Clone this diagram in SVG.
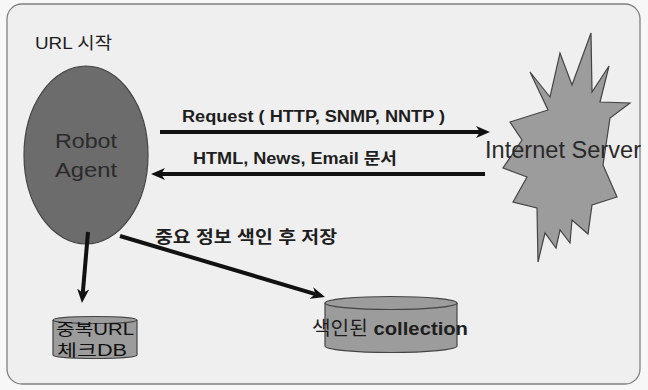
<svg xmlns="http://www.w3.org/2000/svg" width="648" height="390" viewBox="0 0 648 390">
<defs>
<style>
.t{font-family:"Liberation Sans","Noto Sans CJK KR",Arial,sans-serif;fill:#1e1e1e}
.b{font-weight:bold}
.conn{stroke:#111;fill:none;stroke-width:4}
.shape{stroke:#444;stroke-width:1.2}
</style>
<marker id="ah" markerUnits="userSpaceOnUse" viewBox="0 0 14 12" refX="4" refY="6" markerWidth="14" markerHeight="12" orient="auto">
<path d="M0,0 L14,6 L0,12 L4,6 z" fill="#111"/>
</marker>
</defs>
<rect width="648" height="390" fill="#f7f7f7"/>
<rect x="7" y="4" width="633" height="380" rx="15" fill="#efefef" stroke="#808080" stroke-width="1.3"/>
<text class="t" x="35" y="49" font-size="17" textLength="77" lengthAdjust="spacingAndGlyphs">URL 시작</text>

<g id="robot">
<ellipse cx="86" cy="155" rx="62" ry="89" fill="#6c6c6c" class="shape"/>
<text class="t" x="86" y="148" font-size="21" text-anchor="middle" style="fill:#2a2a2a" textLength="62" lengthAdjust="spacingAndGlyphs">Robot</text>
<text class="t" x="86" y="177" font-size="21" text-anchor="middle" style="fill:#2a2a2a" textLength="62" lengthAdjust="spacingAndGlyphs">Agent</text>
</g>

<g id="server">
<polygon class="shape" fill="#9c9c9c" points="591,33 592,92 609,66 600,102 630,103 610,118 603,165 617,197 592,205 588,234 572,220 570,243 560,230 556,248 545,233 538,262 537,208 513,202 527,177 503,168 522,140 510,122 548,110 530,72 550,97 560,53 572,85"/>
<text class="t" x="485" y="158" font-size="23" style="fill:#2a2a2a" textLength="156" lengthAdjust="spacingAndGlyphs">Internet Server</text>
</g>

<g id="dupdb">
<path class="shape" fill="#9c9c9c" d="M53,320 A42,3.5 0 0 1 137,320 L137,355 A42,3.5 0 0 1 53,355 Z"/>
<path class="shape" fill="none" d="M53,320 A42,3.5 0 0 0 137,320"/>
<text class="t" x="95" y="335" font-size="16" text-anchor="middle" style="fill:#111" textLength="78" lengthAdjust="spacingAndGlyphs">중복URL</text>
<text class="t" x="92" y="356" font-size="16" text-anchor="middle" style="fill:#111" textLength="70" lengthAdjust="spacingAndGlyphs">체크DB</text>
</g>

<g id="collection">
<path class="shape" fill="#9c9c9c" d="M325,303 A66,6.5 0 0 1 457,303 L457,346 A66,6.5 0 0 1 325,346 Z"/>
<path class="shape" fill="none" d="M325,303 A66,6.5 0 0 0 457,303"/>
<text class="t" x="312" y="335" font-size="19" textLength="156" lengthAdjust="spacingAndGlyphs">색인된 <tspan class="b">collection</tspan></text>
</g>

<g id="connectors">
<path class="conn" d="M160,132 L480,132" marker-end="url(#ah)"/>
<path class="conn" d="M485,174 L161,174" marker-end="url(#ah)"/>
<path class="conn" d="M88,232 L82.8,293" stroke-width="3.5" marker-end="url(#ah)"/>
<path class="conn" d="M120,236 L315.4,294.1" stroke-width="3.5" marker-end="url(#ah)"/>
<text class="t b" x="182" y="122" font-size="16" textLength="263" lengthAdjust="spacingAndGlyphs">Request ( HTTP, SNMP, NNTP )</text>
<text class="t b" x="193" y="164" font-size="16" textLength="204" lengthAdjust="spacingAndGlyphs">HTML, News, Email 문서</text>
<text class="t b" x="155" y="243" font-size="17" textLength="182" lengthAdjust="spacingAndGlyphs">중요 정보 색인 후 저장</text>
</g>
</svg>
